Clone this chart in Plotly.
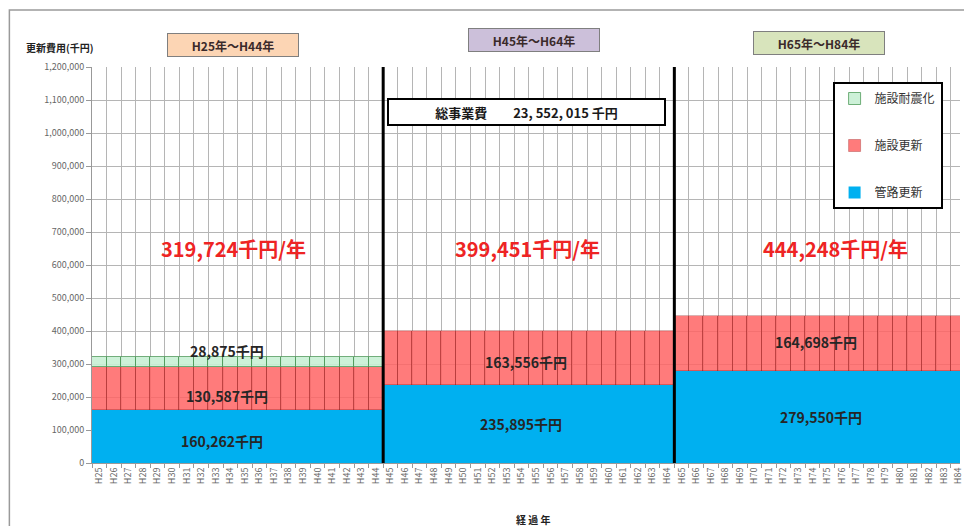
import plotly.graph_objects as go

# ---------------- data ----------------
period_labels = ["H25年～H44年", "H45年～H64年", "H65年～H84年"]
years_per_period = 20
years = [f"H{n}" for n in range(25, 85)]
pipe_renewal = [160262, 235895, 279550]        # 管路更新 (千円/年)
facility_renewal = [130587, 163556, 164698]    # 施設更新 (千円/年)
facility_seismic = [28875, 0, 0]               # 施設耐震化 (千円/年)
annual_totals = [319724, 399451, 444248]       # 千円/年
total_cost_text = "23, 552, 015"               # 総事業費 (千円)
y_ticks = list(range(0, 1200001, 100000))

def per_year(vals):
    out = []
    for v in vals:
        out += [v if v else None] * years_per_period
    return out

FONT = "Noto Sans CJK JP"
W, H = 964, 526
ML, MT, MB, MR = 92, 67, 63, 0
PW, PH = W - ML - MR, H - MT - MB

def px_x(px):
    return (px - ML) / PW

def px_y(py):
    return 1 - (py - MT) / PH

fig = go.Figure()
fig.add_bar(x=years, y=per_year(pipe_renewal), name="管路更新",
            marker=dict(color="#00b0f0", line=dict(width=0)),
            legendgroup="a", legendrank=3)
fig.add_bar(x=years, y=per_year(facility_renewal), name="施設更新",
            marker=dict(color="rgba(255,100,100,0.85)", line=dict(width=0.6, color="rgba(140,20,20,0.55)")),
            legendgroup="b", legendrank=2)
fig.add_bar(x=years, y=per_year(facility_seismic), name="施設耐震化",
            marker=dict(color="rgba(200,240,212,0.9)", line=dict(width=0.8, color="#4f9a5a")),
            legendgroup="c", legendrank=1)

annotations = []
# annual totals (red)
tot_x = [9.2, 29.4, 50.6]
for xx, v in zip(tot_x, annual_totals):
    annotations.append(dict(x=xx, y=651500, xref="x", yref="y", showarrow=False,
                            xanchor="center", yanchor="middle",
                            text=f"<b>{v:,}千円/年</b>",
                            font=dict(family=FONT, size=20, color="#ee2424")))
# segment labels
seg = [
    (8.8, 339000, facility_seismic[0]),
    (8.8, 203000, facility_renewal[0]),
    (8.4, 66700, pipe_renewal[0]),
    (29.3, 306000, facility_renewal[1]),
    (29.0, 118000, pipe_renewal[1]),
    (49.2, 367000, facility_renewal[2]),
    (49.6, 139000, pipe_renewal[2]),
]
for xx, yy, v in seg:
    annotations.append(dict(x=xx, y=yy, xref="x", yref="y", showarrow=False,
                            xanchor="center", yanchor="middle",
                            text=f"<b>{v:,}千円</b>",
                            font=dict(family=FONT, size=14, color="#262626")))
# period boxes
period_boxes = [(234, 45, "#fcd5b4"), (536, 40, "#ccc0da"), (822, 43, "#d8e4bc")]
for (cx, cy, col), lab in zip(period_boxes, period_labels):
    annotations.append(dict(x=px_x(cx), y=px_y(cy), xref="paper", yref="paper",
                            xanchor="center", yanchor="middle",
                            showarrow=False, text=f"<b>{lab}</b>",
                            width=128, height=20, bgcolor=col,
                            bordercolor="#7f7f7f", borderwidth=1, borderpad=1,
                            font=dict(family=FONT, size=12, color="#3a2a2a")))
# total cost box
annotations.append(dict(x=px_x(528), y=px_y(112), xref="paper", yref="paper",
                        xanchor="center", yanchor="middle",
                        showarrow=False,
                        text=f"<b>総事業費　　{total_cost_text} 千円</b>",
                        width=273, height=22, bgcolor="white",
                        bordercolor="black", borderwidth=2, borderpad=1,
                        font=dict(family=FONT, size=13, color="#1a1a1a")))
# axis titles
annotations.append(dict(x=px_x(24), y=px_y(48), xref="paper", yref="paper",
                        xanchor="left", yanchor="middle", showarrow=False,
                        text="<b>更新費用(千円)</b>",
                        font=dict(family=FONT, size=10, color="#222")))
annotations.append(dict(x=px_x(536), y=px_y(519), xref="paper", yref="paper",
                        xanchor="center", yanchor="middle",
                        showarrow=False, text="<b>経 過 年</b>",
                        font=dict(family=FONT, size=10, color="#222")))

shapes = []
for b in (19.5, 39.5):
    shapes.append(dict(type="line", xref="x", yref="paper", x0=b, x1=b, y0=0, y1=1,
                       line=dict(color="black", width=3)))
# outer frame
shapes.append(dict(type="rect", xref="paper", yref="paper",
                   x0=px_x(9), x1=px_x(1000), y0=px_y(560), y1=px_y(10),
                   line=dict(color="#9a9a9a", width=1.5), layer="below"))

fig.update_layout(
    width=W, height=H,
    margin=dict(l=ML, r=MR, t=MT, b=MB),
    barmode="stack", bargap=0,
    paper_bgcolor="white", plot_bgcolor="white",
    font=dict(family=FONT, size=10, color="#555"),
    showlegend=True,
    legend=dict(x=px_x(836), y=px_y(82), xanchor="left", yanchor="top",
                bgcolor="white", bordercolor="black", borderwidth=2,
                traceorder="grouped", tracegroupgap=28,
                font=dict(family=FONT, size=12, color="#333"),
                itemwidth=30, itemclick=False),
    annotations=annotations,
    shapes=shapes,
)
fig.update_xaxes(type="category", range=[-0.5, 59.12], tickson="boundaries",
                 showgrid=True, gridcolor="#b5b5b5", gridwidth=1,
                 ticks="outside", ticklen=4, tickcolor="#999",
                 tickangle=-90, tickfont=dict(size=9, color="#666"),
                 showline=True, linecolor="#999", fixedrange=True)
fig.update_yaxes(range=[0, 1200000], tickvals=y_ticks, tickformat=",",
                 showgrid=True, gridcolor="#b5b5b5", gridwidth=1,
                 ticks="outside", ticklen=5, tickcolor="#999",
                 tickfont=dict(size=9, color="#666"),
                 showline=True, linecolor="#999", zeroline=False, fixedrange=True)

fig.write_html("out.html", config={"displayModeBar": False},
               post_script="document.body.style.margin='0';document.body.style.overflow='hidden';")
